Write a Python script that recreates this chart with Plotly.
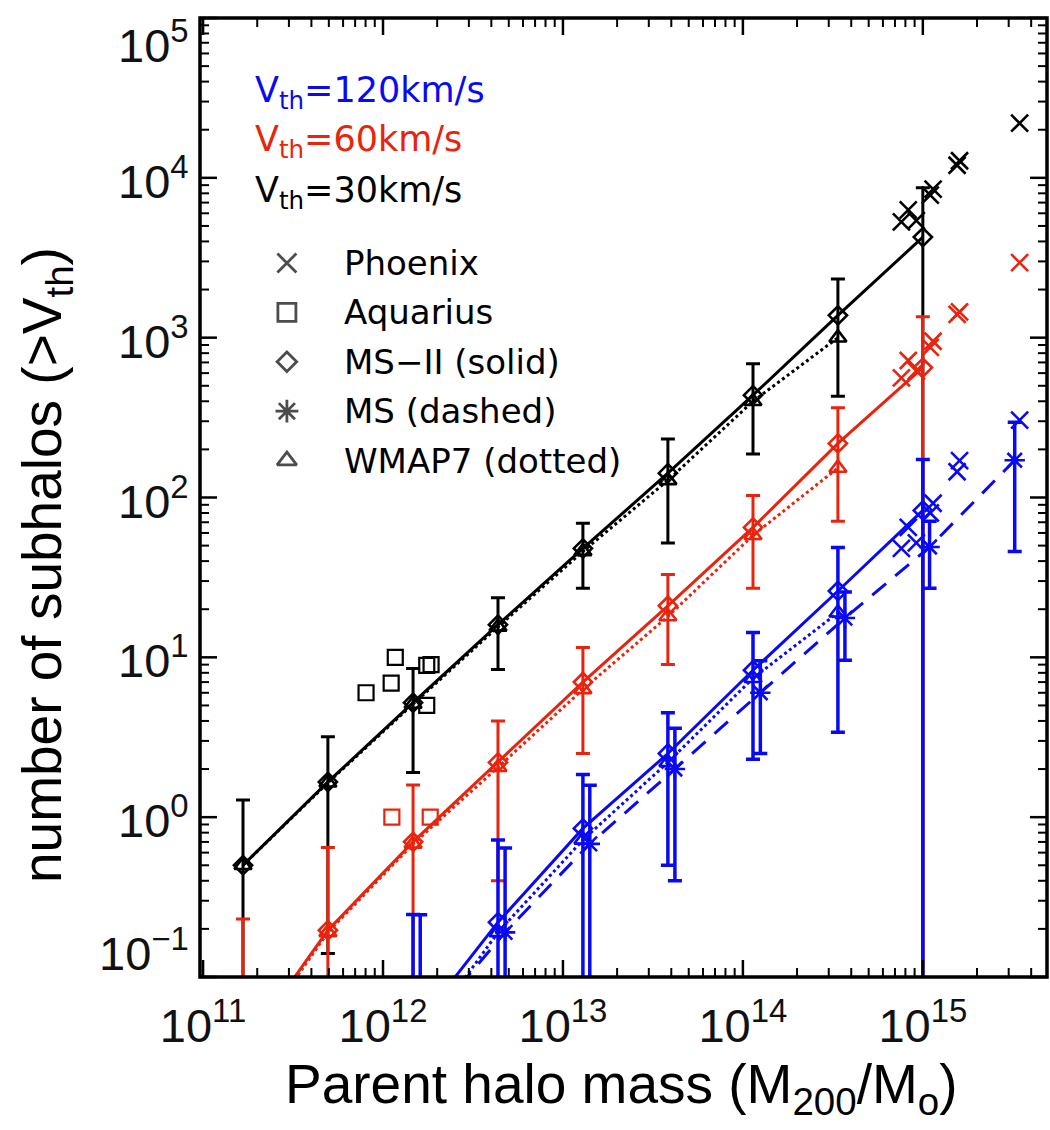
import math
import plotly.graph_objects as go

BLACK = "#000000"
RED = "#e8240e"
BLUE = "#0a0af2"

# ---------------- data ----------------
bin_mass = [1.667e11, 4.94e11, 1.469e12, 4.355e12, 1.291e13, 3.83e13, 1.138e14, 3.373e14, 1.0e15]
ms_mass = [1.61e12, 4.77e12, 1.41e13, 4.19e13, 1.25e14, 3.69e14, 1.09e15, 3.24e15]

# MS-II (diamonds, solid)
msii_black = [0.50, 1.66, 5.2, 16, 48, 142, 437, 1380, 4260]
msii_black_err = [0.78, 1.52, 3.3, 7.6, 21, 90, 250, 950, 4400]
msii_red = [0.035, 0.196, 0.70, 2.2, 7.0, 21, 65, 218, 650]
msii_red_err = [0.195, 0.45, 0.89, 1.8, 4.5, 12, 38, 147, 700]
msii_blue = [0.001, 0.004, 0.046, 0.22, 0.85, 2.5, 8.3, 26, 83]
msii_blue_err = [0.05, 0.05, 0.20, 0.50, 1.0, 2.0, 6.0, 22.6, 90]

# WMAP7 (triangles, dotted)
wmap_black = [0.50, 1.64, 5.1, 15.5, 46, 128, 400, 1000]
wmap_red = [0.033, 0.19, 0.68, 2.05, 6.3, 18, 58, 153]
wmap_blue = [0.001, 0.004, 0.035, 0.19, 0.72, 2.2, 7.4, 19]

# MS (asterisks, dashed) - blue
ms_blue = [0.045, 0.19, 0.68, 2.0, 6.0, 17.6, 49, 171]
ms_blue_err = [0.2, 0.45, 0.9, 1.6, 3.5, 8, 22, 125]

# Phoenix (crosses)
phx_mass = [7.6e14, 8.3e14, 9.2e14, 1.1e15, 1.14e15, 1.55e15, 1.6e15, 3.45e15]
phx_black = [5300, 6300, 5400, 7800, 8500, 12000, 12800, 22000]
phx_red = [560, 720, 620, 870, 950, 1400, 1450, 2950]
phx_blue = [48, 65, 52, 80, 92, 145, 170, 305]

# Aquarius (squares)
aq_black_mass = [8.05e11, 1.11e12, 1.17e12, 1.75e12, 1.85e12, 1.75e12]
aq_black = [6.0, 6.9, 10.0, 8.9, 9.0, 5.0]
aq_red_mass = [1.12e12, 1.83e12]
aq_red = [1.0, 1.0]

vth_labels = ["V<sub>th</sub>=120km/s", "V<sub>th</sub>=60km/s", "V<sub>th</sub>=30km/s"]
vth_colors = [BLUE, RED, BLACK]
sym_labels = ["Phoenix", "Aquarius", "MS\u2212II (solid)", "MS (dashed)", "WMAP7 (dotted)"]
sym_symbols = ["x-thin-open", "square-open", "diamond-open", "asterisk-open", "triangle-up-open"]

x_major = [1e11, 1e12, 1e13, 1e14, 1e15]
x_major_text = ["10<sup>11</sup>", "10<sup>12</sup>", "10<sup>13</sup>", "10<sup>14</sup>", "10<sup>15</sup>"]
y_major_exp = [-1, 0, 1, 2, 3, 4, 5]
y_major_text = ["10<sup>\u22121</sup>", "10<sup>0</sup>", "10<sup>1</sup>", "10<sup>2</sup>",
                "10<sup>3</sup>", "10<sup>4</sup>", "10<sup>5</sup>"]

# ---------------- layout geometry ----------------
W, H = 1050, 1130
ML, MR, MT, MB = 200, 3, 18, 153
PW, PH = W - ML - MR, H - MT - MB
XR = [10.983, 15.69]
YR = [-1.0, 5.0]


def frac_to_data(fx, fy):
    """Convert fractions of the plot area to log-axis data values (for the symbol key)."""
    return 10 ** (XR[0] + fx * (XR[1] - XR[0])), 10 ** (YR[0] + fy * (YR[1] - YR[0]))


# ---------------- figure ----------------
fig = go.Figure()

LW = 3
MLW = 2.6


def eb(err, color, thick=3):
    return dict(type="data", array=err, visible=True, color=color, thickness=thick, width=7)


for color, d_vals, d_err, t_vals, thick in [
    (BLACK, msii_black, msii_black_err, wmap_black, 3),
    (RED, msii_red, msii_red_err, wmap_red, 3),
    (BLUE, msii_blue, msii_blue_err, wmap_blue, 3.5),
]:
    fig.add_trace(go.Scatter(
        x=bin_mass[:len(t_vals)], y=t_vals, mode="lines+markers",
        line=dict(color=color, width=LW, dash="dot"),
        marker=dict(symbol="triangle-up-open", size=15, color=color, line=dict(width=MLW, color=color)),
        showlegend=False))
    fig.add_trace(go.Scatter(
        x=bin_mass, y=d_vals, mode="lines+markers",
        line=dict(color=color, width=LW),
        marker=dict(symbol="diamond-open", size=14, color=color, line=dict(width=MLW, color=color)),
        error_y=eb(d_err, color, thick),
        showlegend=False))

fig.add_trace(go.Scatter(
    x=ms_mass, y=ms_blue, mode="lines+markers",
    line=dict(color=BLUE, width=LW, dash="18px,12px"),
    marker=dict(symbol="asterisk-open", size=17, color=BLUE, line=dict(width=MLW, color=BLUE)),
    error_y=eb(ms_blue_err, BLUE, 3.5),
    showlegend=False))

for color, vals in [(BLACK, phx_black), (RED, phx_red), (BLUE, phx_blue)]:
    fig.add_trace(go.Scatter(
        x=phx_mass, y=vals, mode="markers",
        marker=dict(symbol="x-thin-open", size=17, color=color, line=dict(width=MLW, color=color)),
        showlegend=False))

for color, mx, vals in [(BLACK, aq_black_mass, aq_black), (RED, aq_red_mass, aq_red)]:
    fig.add_trace(go.Scatter(
        x=mx, y=vals, mode="markers",
        marker=dict(symbol="square-open", size=15, color=color, line=dict(width=MLW - 0.4, color=color)),
        showlegend=False))

# symbol key
key_fx = 0.1026
key_fy0 = 0.7445
key_dfy = 0.0515
key_fy = [key_fy0 - i * key_dfy for i in range(len(sym_labels))]
kx, ky = [], []
for fy in key_fy:
    a, b = frac_to_data(key_fx, fy)
    kx.append(a)
    ky.append(b)
fig.add_trace(go.Scatter(
    x=kx, y=ky, mode="markers",
    marker=dict(symbol=sym_symbols, size=[19, 18, 15, 19, 17], color=BLACK,
                line=dict(width=2.8, color=BLACK)),
    showlegend=False))


def py(pix):
    return (H - MB - pix) / PH


def px(pix):
    return (pix - ML) / PW


KEYFONT = "DejaVu Sans"
annotations = []
for i, lab in enumerate(sym_labels):
    annotations.append(dict(x=0.1675, y=key_fy[i], xref="paper", yref="paper", text=lab,
                            showarrow=False, xanchor="left", yanchor="middle",
                            font=dict(family=KEYFONT, size=34, color=BLACK)))
for i, lab in enumerate(vth_labels):
    annotations.append(dict(x=0.0625, y=py(92 + 50 * i), xref="paper", yref="paper", text=lab,
                            showarrow=False, xanchor="left", yanchor="middle",
                            font=dict(family=KEYFONT, size=35, color=vth_colors[i])))

TITLEFONT = dict(family="Liberation Sans", size=55, color=BLACK)
annotations.append(dict(x=px(621), y=py(1088), xref="paper", yref="paper",
                        text="Parent halo mass (M<sub>200</sub>/M<sub>o</sub>)",
                        showarrow=False, xanchor="center", yanchor="middle", font=TITLEFONT))
annotations.append(dict(x=px(46), y=py(565), xref="paper", yref="paper",
                        text="number of subhalos (&gt;V<sub>th</sub>)", textangle=-90,
                        showarrow=False, xanchor="center", yanchor="middle", font=TITLEFONT))

# y tick labels (kept inside the frame's height like the original)
TICKFONT = dict(family="Liberation Sans", size=47, color="#111111")
for e, txt in zip(y_major_exp, y_major_text):
    f = (e - YR[0]) / (YR[1] - YR[0])
    f = min(max(f, py(950)), py(42))
    annotations.append(dict(x=0, y=f, xref="paper", yref="paper", text=txt, showarrow=False,
                            xanchor="right", yanchor="middle", xshift=-9, font=TICKFONT))

# ---------------- frame and ticks (all four sides) ----------------
shapes = [dict(type="rect", xref="paper", yref="paper", x0=0, y0=0, x1=1, y1=1,
               line=dict(color=BLACK, width=3.5), layer="above")]
MAJ_LEN, MIN_LEN = 17, 9


def xtick(lg, length, width):
    f = (lg - XR[0]) / (XR[1] - XR[0])
    if f < 0 or f > 1:
        return []
    h = length / PH
    return [dict(type="line", xref="paper", yref="paper", x0=f, x1=f, y0=0, y1=h,
                 line=dict(color=BLACK, width=width), layer="above"),
            dict(type="line", xref="paper", yref="paper", x0=f, x1=f, y0=1 - h, y1=1,
                 line=dict(color=BLACK, width=width), layer="above")]


def ytick(lg, length, width):
    f = (lg - YR[0]) / (YR[1] - YR[0])
    if f < -1e-9 or f > 1 + 1e-9:
        return []
    w = length / PW
    return [dict(type="line", xref="paper", yref="paper", y0=f, y1=f, x0=0, x1=w,
                 line=dict(color=BLACK, width=width), layer="above"),
            dict(type="line", xref="paper", yref="paper", y0=f, y1=f, x0=1 - w, x1=1,
                 line=dict(color=BLACK, width=width), layer="above")]


for e in range(11, 16):
    shapes += xtick(e, MAJ_LEN, 2.5)
    for m in range(2, 10):
        shapes += xtick(e + math.log10(m), MIN_LEN, 2)
for e in range(-1, 6):
    shapes += ytick(e, MAJ_LEN, 2.5)
    if e < 5:
        for m in range(2, 10):
            shapes += ytick(e + math.log10(m), MIN_LEN, 2)

AX = dict(showline=False, ticks="", showgrid=False, zeroline=False, type="log", tickmode="array",
          automargin=False, ticklabeloverflow="allow")

fig.update_layout(
    width=W, height=H,
    margin=dict(l=ML, r=MR, t=MT, b=MB, autoexpand=False),
    paper_bgcolor="white", plot_bgcolor="white",
    xaxis=dict(**AX, range=XR, tickvals=x_major, ticktext=x_major_text,
               tickfont=TICKFONT, ticklabelstandoff=17),
    yaxis=dict(**AX, range=[YR[0] - 0.0005, YR[1] + 0.0005], showticklabels=False),
    annotations=annotations,
    shapes=shapes,
)

fig.write_html("out.html", config={"displayModeBar": False})
